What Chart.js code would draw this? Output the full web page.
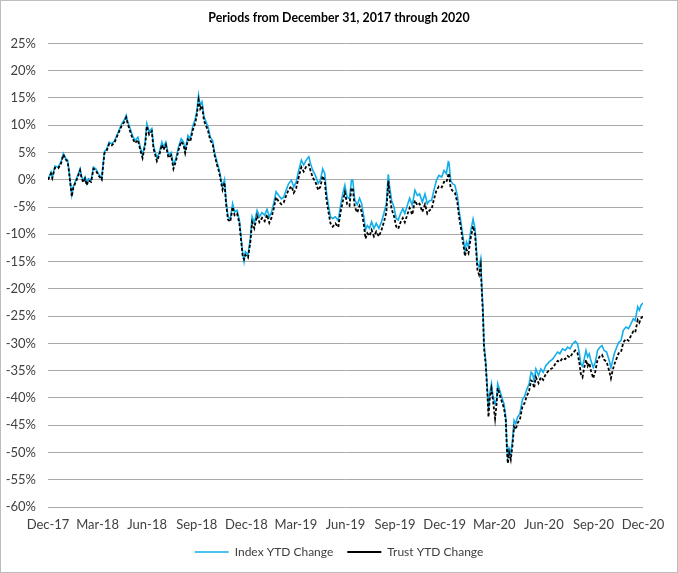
<!DOCTYPE html>
<html>
<head>
<meta charset="utf-8">
<script src="https://cdn.jsdelivr.net/npm/chart.js@4"></script>
<style>
  html, body { margin: 0; padding: 0; background: #fff; }
  #wrap { width: 678px; height: 573px; position: relative; }
  canvas { display: block; }
</style>
</head>
<body>
<div id="wrap"><canvas id="c" width="678" height="573"></canvas></div>
<script>
// ---- Data ----
const chartTitle = 'Periods from December 31, 2017 through 2020';
const seriesNames = ['Index YTD Change', 'Trust YTD Change'];
const xTickLabels = ['Dec-17','Mar-18','Jun-18','Sep-18','Dec-18','Mar-19','Jun-19','Sep-19','Dec-19','Mar-20','Jun-20','Sep-20','Dec-20'];

// position along time axis, in months after Dec 31, 2017
const xMonths = [
  0.00,0.18,0.26,0.42,0.62,0.79,0.93,1.07,1.19,1.27,1.44,1.53,1.68,1.80,1.94,2.04,2.14,2.24,2.35,2.44,
  2.61,2.75,2.89,3.05,3.25,3.41,3.56,3.70,3.86,4.02,4.16,4.30,4.47,4.62,4.73,4.83,4.97,5.11,5.27,5.44,
  5.58,5.72,5.88,5.98,6.12,6.28,6.38,6.59,6.73,6.89,6.99,7.13,7.29,7.45,7.59,7.74,7.90,8.06,8.20,8.30,
  8.47,8.61,8.75,8.91,9.01,9.11,9.21,9.32,9.44,9.56,9.68,9.82,9.96,10.08,10.22,10.36,10.48,10.56,10.68,10.77,
  10.89,11.03,11.17,11.29,11.44,11.58,11.70,11.78,11.86,11.94,12.10,12.24,12.35,12.48,12.65,12.79,12.95,13.11,13.25,13.39,
  13.52,13.65,13.80,13.96,14.12,14.26,14.41,14.56,14.73,14.87,15.01,15.17,15.33,15.47,15.62,15.78,15.88,16.02,16.18,16.35,
  16.48,16.62,16.75,16.83,16.95,17.09,17.23,17.39,17.56,17.70,17.84,17.96,18.10,18.24,18.36,18.44,18.56,18.71,18.85,18.97,
  19.11,19.21,19.32,19.45,19.58,19.72,19.86,20.02,20.18,20.32,20.47,20.59,20.67,20.79,20.93,21.07,21.19,21.33,21.47,21.59,
  21.74,21.88,22.04,22.20,22.35,22.48,22.65,22.81,22.95,23.09,23.21,23.35,23.50,23.65,23.82,23.96,24.10,24.22,24.26,24.36,
  24.47,24.62,24.77,24.87,24.97,25.11,25.23,25.32,25.44,25.58,25.72,25.84,25.98,26.08,26.18,26.24,26.32,26.38,26.48,26.59,
  26.65,26.73,26.83,26.93,27.05,27.13,27.21,27.33,27.45,27.59,27.70,27.76,27.82,27.90,28.00,28.10,28.20,28.30,28.41,28.55,
  28.71,28.83,28.95,29.11,29.23,29.32,29.41,29.52,29.68,29.82,29.96,30.12,30.32,30.53,30.69,30.83,30.97,31.13,31.29,31.44,
  31.58,31.74,31.90,32.04,32.14,32.24,32.34,32.44,32.55,32.65,32.75,32.85,32.99,33.11,33.25,33.39,33.52,33.65,33.80,33.96,
  34.06,34.16,34.26,34.41,34.53,34.67,34.81,34.97,35.13,35.27,35.41,35.53,35.68,35.78,35.88,36.00
];

// Index YTD change, %
const indexYTD = [
  0.0,1.4,0.5,2.5,2.3,3.3,4.8,3.9,3.6,1.7,-2.8,-1.3,-0.1,0.8,2.0,0.5,-0.1,0.5,-0.7,0.2,
  -0.1,2.3,2.0,1.1,0.2,5.1,5.7,6.9,6.6,7.1,8.1,9.1,10.3,11.0,11.8,10.6,9.4,8.1,7.2,7.8,
  6.0,4.5,6.9,10.3,8.8,9.4,6.3,3.9,5.0,6.9,6.0,6.9,4.5,5.0,2.7,3.9,6.0,7.5,6.9,5.4,
  8.1,7.5,9.7,11.2,12.7,15.5,13.7,14.3,11.5,10.6,9.7,7.8,7.2,5.0,3.3,1.8,-0.1,-1.3,0.0,-3.8,
  -6.8,-7.2,-4.4,-5.9,-5.6,-7.4,-11.1,-13.5,-15.0,-13.2,-13.8,-10.8,-6.8,-7.9,-5.6,-6.8,-6.0,-6.5,-5.4,-6.8,
  -6.0,-4.4,-2.2,-2.9,-3.5,-3.2,-1.9,-0.7,-0.1,-1.3,-0.5,1.7,3.6,2.7,3.6,4.2,3.0,1.7,0.8,-0.7,
  -0.1,2.0,1.1,-1.9,-4.4,-6.8,-7.1,-6.8,-7.5,-4.7,-2.5,-1.0,-3.2,-3.5,-0.1,-0.1,-3.7,-4.6,-3.4,-4.3,
  -6.8,-9.2,-8.4,-8.9,-7.7,-8.9,-8.0,-8.9,-7.7,-6.2,-4.4,1.0,-1.3,-3.8,-5.0,-7.1,-7.4,-6.2,-5.3,-6.2,
  -4.7,-3.4,-4.7,-1.9,-2.9,-2.6,-4.1,-2.6,-4.4,-3.8,-3.8,-1.9,-0.1,0.8,0.5,1.7,1.1,3.3,3.2,-0.1,
  -0.7,-1.0,-2.9,-5.6,-7.5,-10.5,-13.0,-11.4,-12.3,-9.3,-7.2,-9.0,-15.4,-16.0,-14.5,-19.1,-24.0,-30.1,-33.1,-38.6,
  -42.0,-39.2,-37.4,-39.8,-41.1,-40.5,-37.4,-38.6,-39.8,-41.1,-43.5,-48.4,-51.2,-49.3,-50.2,-47.8,-44.1,-44.7,-43.5,-42.9,
  -40.2,-39.8,-38.6,-37.4,-35.3,-35.6,-36.8,-34.7,-35.9,-34.7,-35.3,-34.1,-33.4,-32.9,-32.2,-31.6,-31.9,-31.0,-31.3,-30.7,
  -31.0,-30.1,-29.6,-30.1,-31.6,-33.8,-34.2,-32.9,-31.3,-32.5,-31.9,-33.2,-34.4,-33.5,-31.3,-30.7,-30.4,-31.3,-31.6,-33.2,
  -34.4,-33.2,-31.9,-30.7,-29.8,-29.5,-27.6,-27.0,-27.3,-26.4,-25.5,-25.8,-23.3,-23.9,-23.0,-22.6
];

// Trust YTD change, %
const trustYTD = [
  0.0,1.1,0.3,2.2,2.1,3.0,4.6,3.7,3.3,1.5,-3.1,-1.5,-0.4,0.5,1.7,0.2,-0.5,0.2,-1.0,-0.1,
  -0.4,2.0,1.7,0.8,0.0,4.8,5.4,6.6,6.3,6.8,7.8,8.8,10.0,10.6,11.4,10.2,8.9,7.6,6.7,7.3,
  5.5,4.0,6.4,9.8,8.3,8.9,5.8,3.4,4.5,6.4,5.5,6.4,4.0,4.5,2.0,3.4,5.5,7.0,6.4,4.9,
  7.4,7.0,9.0,10.4,12.0,14.6,13.0,13.6,10.8,9.9,9.0,7.2,6.6,4.5,2.8,1.3,-0.6,-1.8,-0.5,-4.3,
  -7.3,-7.7,-5.0,-6.5,-6.2,-8.0,-11.6,-14.0,-14.6,-13.8,-14.3,-11.5,-7.8,-8.9,-6.6,-7.8,-7.0,-7.6,-6.4,-7.9,
  -7.0,-5.4,-3.2,-4.0,-4.5,-4.2,-2.9,-1.8,-1.2,-2.4,-1.6,0.5,2.3,1.5,2.4,2.8,1.7,0.4,-0.4,-1.9,
  -1.3,0.7,-0.2,-3.2,-5.6,-8.0,-8.6,-8.0,-8.7,-6.0,-3.9,-2.3,-4.5,-4.8,-1.5,-1.6,-5.0,-6.0,-4.8,-5.8,
  -8.2,-10.8,-9.8,-10.3,-9.2,-10.4,-9.5,-10.4,-9.2,-7.8,-6.0,-0.2,-2.8,-5.4,-6.6,-8.6,-9.0,-7.8,-7.0,-7.8,
  -6.4,-5.2,-6.4,-3.8,-4.7,-4.4,-5.9,-4.5,-6.2,-5.6,-5.4,-3.6,-2.0,-1.2,-1.4,-0.4,-0.5,0.9,1.2,-1.5,
  -2.0,-2.4,-4.2,-6.8,-8.6,-11.5,-14.0,-12.8,-13.5,-10.6,-8.5,-10.0,-16.5,-17.4,-15.7,-20.0,-24.8,-30.8,-33.8,-39.5,
  -43.5,-40.0,-38.3,-40.6,-43.8,-41.5,-38.2,-39.4,-40.6,-41.9,-44.2,-49.0,-52.0,-50.0,-51.3,-48.8,-45.3,-45.8,-44.6,-44.0,
  -41.5,-41.0,-39.8,-38.7,-36.8,-37.0,-38.2,-36.2,-37.3,-36.2,-36.7,-35.6,-34.9,-34.5,-33.8,-33.2,-33.4,-32.7,-32.9,-32.3,
  -32.6,-31.8,-31.3,-31.8,-33.4,-35.6,-36.2,-34.5,-33.0,-34.2,-33.6,-35.0,-36.4,-35.2,-33.0,-32.4,-32.1,-33.0,-33.4,-35.1,
  -36.4,-35.0,-33.9,-32.7,-31.8,-31.6,-29.8,-29.2,-29.5,-28.6,-27.8,-28.0,-25.7,-26.2,-25.4,-25.0
];

const yMin = -60, yMax = 25, yStep = 5;

// ---- Chart ----
const borderPlugin = {
  id: 'outerBorder',
  afterDraw(chart) {
    const ctx = chart.ctx;
    ctx.save();
    ctx.strokeStyle = '#bdbdbd';
    ctx.lineWidth = 1;
    ctx.strokeRect(0.5, 0.5, chart.width - 1, chart.height - 1);
    ctx.restore();
  }
};

const FONT = 'Lato, "Liberation Sans", sans-serif';

new Chart(document.getElementById('c'), {
  type: 'line',
  data: {
    datasets: [
      {
        label: seriesNames[0],
        data: xMonths.map((m, i) => ({ x: m, y: indexYTD[i] })),
        borderColor: '#12aeea',
        backgroundColor: '#12aeea',
        borderWidth: 1.6,
        pointRadius: 0,
        tension: 0,
        order: 1
      },
      {
        label: seriesNames[1],
        data: xMonths.map((m, i) => ({ x: m, y: trustYTD[i] })),
        borderColor: '#000000',
        backgroundColor: '#000000',
        borderWidth: 1.8,
        borderDash: [3, 2],
        pointRadius: 0,
        tension: 0,
        order: 0
      }
    ]
  },
  options: {
    responsive: false,
    animation: false,
    devicePixelRatio: 1,
    layout: { padding: { left: 0, right: 0, top: 0, bottom: 5 } },
    plugins: {
      title: {
        display: true,
        text: chartTitle,
        color: '#000',
        font: { family: FONT, size: 12.4, weight: 'bold' },
        padding: { top: 11, bottom: 17.5 }
      },
      legend: {
        position: 'bottom',
        labels: {
          usePointStyle: true,
          pointStyle: 'line',
          pointStyleWidth: 34,
          boxWidth: 34,
          color: '#404040',
          font: { family: FONT, size: 12 },
          padding: 14,
          sort: (a, b) => a.datasetIndex - b.datasetIndex
        }
      },
      tooltip: { enabled: false }
    },
    scales: {
      x: {
        type: 'linear',
        min: 0,
        max: 36,
        grid: { display: false, drawTicks: false },
        border: { display: false },
        ticks: {
          stepSize: 3,
          autoSkip: false,
          maxRotation: 0,
          padding: 10,
          color: '#404040',
          font: { family: FONT, size: 13 },
          callback: (v) => xTickLabels[Math.round(v / 3)]
        },
        afterFit: (s) => { s.height = 25; }
      },
      y: {
        min: yMin,
        max: yMax,
        grid: { color: '#a9a9a9', lineWidth: 1, drawTicks: false },
        border: { display: false },
        ticks: {
          stepSize: yStep,
          padding: 12,
          color: '#404040',
          font: { family: FONT, size: 13 },
          callback: (v) => v + '%'
        },
        afterFit: (s) => { s.width = 48; }
      },
      yRightSpace: {
        position: 'right',
        display: true,
        grid: { display: false, drawTicks: false },
        border: { display: false },
        ticks: { display: false },
        afterFit: (s) => { s.width = 35; }
      }
    }
  },
  plugins: [borderPlugin]
});
</script>
</body>
</html>
